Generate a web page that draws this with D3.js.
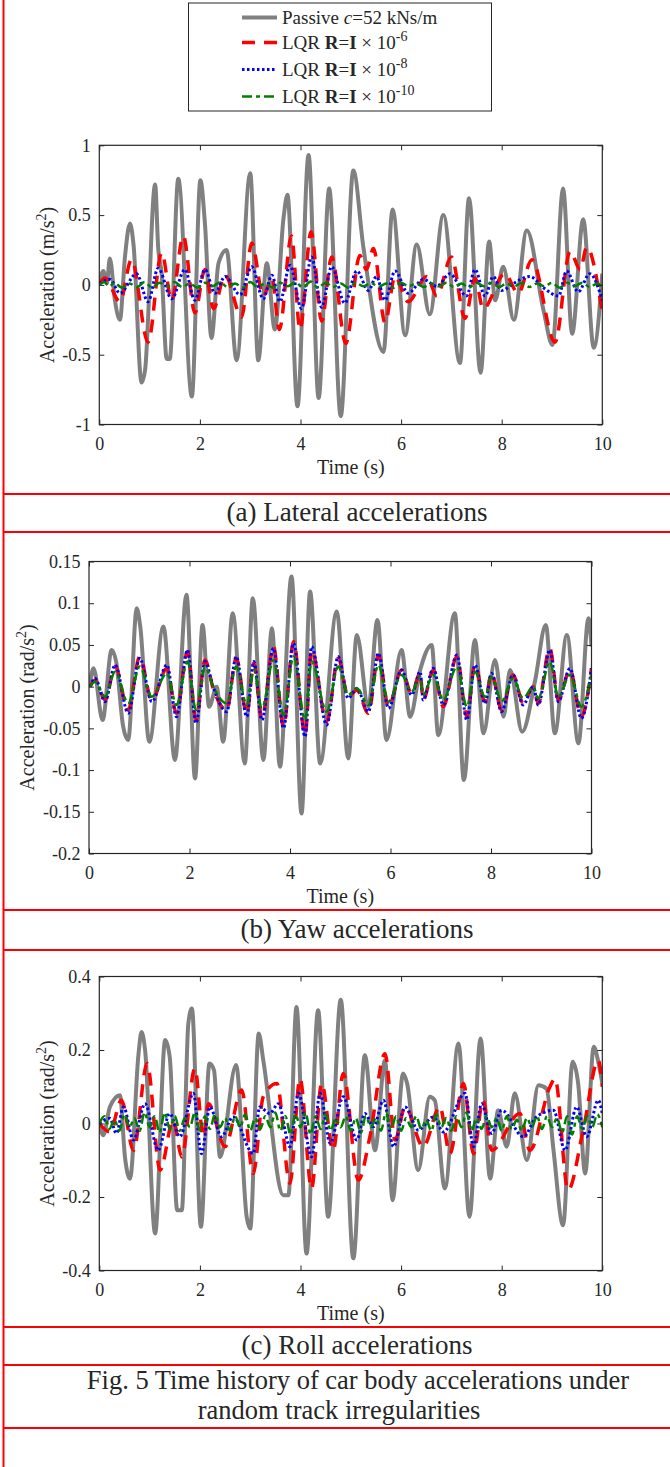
<!DOCTYPE html>
<html>
<head>
<meta charset="utf-8">
<script src="https://cdn.jsdelivr.net/npm/d3@7"></script>
<style>
  html, body { margin: 0; padding: 0; background: #fff; }
  svg { display: block; }
  text { font-family: "Liberation Serif", "Times New Roman", serif; fill: #262626; }
</style>
</head>
<body>
<svg id="chart" width="670" height="1467"></svg>
<script>
// ---------------- DATA ----------------
const timeTicks = [0, 2, 4, 6, 8, 10];
const latTicks = [-1, -0.5, 0, 0.5, 1];
const yawTicks = [-0.2, -0.15, -0.1, -0.05, 0, 0.05, 0.1, 0.15];
const rollTicks = [-0.4, -0.2, 0, 0.2, 0.4];

const seriesNames = ["Passive", "LQR6", "LQR8", "LQR10"];

// (a) Lateral accelerations, [time s, m/s^2]
const latPassive = [[0,0.01],[0.08,0.10],[0.15,0.01],[0.21,0.19],[0.31,-0.11],[0.41,-0.25],[0.51,0.20],[0.61,0.44],[0.68,0.29],[0.84,-0.70],[0.91,-0.61],[1.11,0.72],[1.17,0.27],[1.24,0.08],[1.34,-0.53],[1.40,-0.53],[1.57,0.76],[1.84,-0.80],[2.01,0.75],[2.10,0.44],[2.23,-0.38],[2.37,0.155],[2.53,0.25],[2.73,-0.54],[3.00,0.80],[3.16,-0.54],[3.33,0.155],[3.49,-0.32],[3.66,0.47],[3.74,0.645],[3.94,-0.87],[4.16,0.93],[4.36,-0.81],[4.57,0.69],[4.80,-0.94],[5.05,0.82],[5.25,0.27],[5.65,-0.48],[5.83,0.54],[6.08,-0.36],[6.31,0.29],[6.57,-0.21],[6.84,0.50],[7.17,-0.56],[7.35,0.62],[7.58,-0.63],[7.75,0.31],[7.87,-0.11],[8.03,0.13],[8.24,-0.25],[8.50,0.39],[8.83,-0.18],[9.01,-0.43],[9.22,0.69],[9.40,-0.35],[9.62,0.47],[9.83,-0.45],[10.0,0.08]];
const latLqr6 = [[0,0.01],[0.11,0.05],[0.41,-0.12],[0.64,0.18],[0.97,-0.41],[1.24,0.23],[1.44,-0.11],[1.67,0.35],[1.90,-0.20],[2.10,0.11],[2.27,-0.17],[2.50,0.07],[2.83,-0.23],[3.03,0.30],[3.26,-0.08],[3.43,0.05],[3.58,-0.32],[3.82,0.35],[3.99,-0.32],[4.21,0.38],[4.42,-0.26],[4.62,0.20],[4.90,-0.42],[5.18,0.21],[5.31,0.11],[5.45,0.26],[5.68,-0.27],[5.88,0.06],[6.14,-0.12],[6.51,0.06],[6.71,-0.08],[7.00,0.20],[7.27,-0.24],[7.47,0.05],[7.63,-0.17],[8.06,0.08],[8.33,-0.06],[8.60,0.18],[9.06,-0.41],[9.36,0.24],[9.56,0.11],[9.69,0.27],[10.0,-0.20]];
const latLqr8 = [[0,0.01],[0.21,0.04],[0.41,-0.06],[0.74,0.08],[0.97,-0.12],[1.17,0.12],[1.44,-0.10],[1.70,0.11],[1.90,-0.11],[2.10,0.11],[2.30,-0.06],[2.50,0.06],[2.80,-0.07],[3.03,0.13],[3.26,-0.10],[3.43,0.07],[3.59,-0.12],[3.79,0.14],[4.02,-0.17],[4.22,0.20],[4.42,-0.16],[4.62,0.13],[4.88,-0.13],[5.12,0.10],[5.35,-0.04],[5.51,0.06],[5.68,-0.11],[5.88,0.10],[6.14,-0.06],[6.44,0.04],[6.71,-0.01],[6.97,0.08],[7.30,-0.08],[7.47,0.11],[7.67,-0.08],[7.83,0.06],[8.00,-0.04],[8.23,0.01],[8.56,0.06],[8.83,-0.02],[9.13,-0.08],[9.29,0.10],[9.52,-0.05],[9.75,0.08],[10.0,-0.11]];
const latLqr10 = [[0,0],[0.1,0.02],[0.2,-0.01],[0.3,0.015],[0.45,-0.02],[0.6,0.01],[0.75,-0.015],[0.9,0.02],[1.05,-0.02],[1.2,0.015],[1.35,-0.01],[1.5,0.02],[1.65,-0.015],[1.8,0.01],[1.95,-0.02],[2.1,0.015],[2.25,-0.01],[2.4,0.02],[2.55,-0.015],[2.7,0.01],[2.85,-0.02],[3.0,0.02],[3.15,-0.015],[3.3,0.01],[3.45,-0.02],[3.6,0.015],[3.75,-0.01],[3.9,0.02],[4.05,-0.02],[4.2,0.025],[4.35,-0.02],[4.5,0.015],[4.65,-0.015],[4.8,0.01],[4.95,-0.02],[5.1,0.015],[5.25,-0.01],[5.4,0.015],[5.55,-0.015],[5.7,0.01],[5.85,-0.02],[6.0,0.015],[6.15,-0.01],[6.3,0.01],[6.45,-0.015],[6.6,0.01],[6.75,-0.01],[6.9,0.015],[7.05,-0.015],[7.2,0.01],[7.35,-0.02],[7.5,0.015],[7.65,-0.01],[7.8,0.015],[7.95,-0.015],[8.1,0.01],[8.25,-0.01],[8.4,0.015],[8.55,-0.015],[8.7,0.01],[8.85,-0.01],[9.0,0.015],[9.15,-0.02],[9.3,0.015],[9.45,-0.01],[9.6,0.015],[9.75,-0.015],[9.9,0.01],[10,-0.015]];

// (b) Yaw accelerations, [time s, rad/s^2]
const yawPassive = [[0.02,0.004],[0.09,0.022],[0.27,-0.040],[0.45,0.044],[0.54,0.030],[0.68,-0.048],[0.78,-0.064],[0.95,0.094],[1.02,0.072],[1.20,-0.066],[1.48,0.072],[1.71,-0.088],[1.94,0.110],[2.11,-0.110],[2.26,0.074],[2.39,-0.024],[2.54,0.0],[2.67,-0.066],[2.86,0.088],[3.10,-0.092],[3.26,0.106],[3.47,-0.088],[3.64,0.070],[3.80,-0.096],[4.03,0.132],[4.23,-0.152],[4.40,0.114],[4.60,-0.092],[4.93,0.090],[5.16,-0.086],[5.33,0.062],[5.56,-0.024],[5.74,0.080],[5.92,-0.064],[6.22,0.044],[6.39,-0.036],[6.59,0.020],[6.82,0.050],[6.95,-0.058],[7.28,0.088],[7.46,-0.112],[7.68,0.056],[7.85,-0.056],[8.08,0.032],[8.25,-0.036],[8.38,0.020],[8.62,-0.054],[8.88,0.008],[9.09,0.074],[9.27,-0.056],[9.51,0.062],[9.74,-0.068],[9.94,0.082],[10.0,0.048]];
const yawLqr6 = [[0.02,0.0],[0.12,0.008],[0.32,-0.016],[0.52,0.024],[0.78,-0.028],[1.01,0.036],[1.25,-0.016],[1.55,0.022],[1.74,-0.032],[1.96,0.042],[2.13,-0.040],[2.31,0.032],[2.47,-0.002],[2.74,-0.028],[2.93,0.034],[3.14,-0.032],[3.28,0.028],[3.44,-0.038],[3.67,0.048],[3.87,-0.048],[4.07,0.054],[4.30,-0.058],[4.43,0.044],[4.73,-0.042],[4.96,0.034],[5.16,-0.012],[5.33,-0.004],[5.56,-0.032],[5.76,0.038],[5.96,-0.024],[6.22,0.020],[6.42,-0.008],[6.59,0.016],[6.65,-0.016],[6.85,0.020],[7.05,-0.024],[7.32,0.036],[7.52,-0.036],[7.68,0.026],[7.88,-0.018],[8.01,0.016],[8.21,-0.028],[8.44,0.014],[8.64,-0.020],[8.84,0.0],[8.94,-0.020],[9.17,0.046],[9.34,-0.016],[9.57,0.020],[9.80,-0.036],[10.0,0.022]];
const yawLqr8 = [[0.02,0.0],[0.12,0.010],[0.32,-0.018],[0.52,0.026],[0.78,-0.032],[1.01,0.034],[1.25,-0.018],[1.55,0.026],[1.74,-0.036],[1.96,0.044],[2.13,-0.044],[2.31,0.030],[2.47,0.0],[2.74,-0.030],[2.93,0.036],[3.14,-0.036],[3.28,0.030],[3.44,-0.040],[3.67,0.046],[3.87,-0.050],[4.07,0.052],[4.30,-0.060],[4.43,0.048],[4.73,-0.046],[4.96,0.036],[5.16,-0.014],[5.33,-0.002],[5.56,-0.030],[5.76,0.040],[5.96,-0.026],[6.22,0.020],[6.42,-0.010],[6.59,0.018],[6.65,-0.016],[6.85,0.022],[7.05,-0.022],[7.32,0.038],[7.52,-0.040],[7.68,0.026],[7.88,-0.020],[8.01,0.016],[8.21,-0.030],[8.44,0.014],[8.64,-0.022],[8.84,0.0],[8.94,-0.022],[9.17,0.044],[9.34,-0.018],[9.57,0.022],[9.80,-0.038],[10.0,0.022]];
const yawLqr10 = [[0.02,0.0],[0.12,0.006],[0.32,-0.012],[0.52,0.018],[0.78,-0.020],[1.01,0.024],[1.25,-0.012],[1.55,0.016],[1.74,-0.022],[1.96,0.030],[2.13,-0.028],[2.31,0.024],[2.47,0.0],[2.74,-0.020],[2.93,0.024],[3.14,-0.022],[3.28,0.020],[3.44,-0.026],[3.67,0.032],[3.87,-0.034],[4.07,0.036],[4.30,-0.040],[4.43,0.030],[4.73,-0.030],[4.96,0.024],[5.16,-0.010],[5.33,-0.002],[5.56,-0.022],[5.76,0.026],[5.96,-0.018],[6.22,0.014],[6.42,-0.006],[6.59,0.012],[6.65,-0.010],[6.85,0.014],[7.05,-0.016],[7.32,0.024],[7.52,-0.024],[7.68,0.018],[7.88,-0.012],[8.01,0.012],[8.21,-0.018],[8.44,0.010],[8.64,-0.014],[8.84,0.0],[8.94,-0.014],[9.17,0.030],[9.34,-0.012],[9.57,0.014],[9.80,-0.024],[10.0,0.016]];

// (c) Roll accelerations, [time s, rad/s^2]
const rollPassive = [[0,0],[0.08,-0.032],[0.21,0.045],[0.41,0.077],[0.51,-0.091],[0.61,-0.150],[0.78,0.190],[0.84,0.249],[0.91,0.200],[1.11,-0.299],[1.31,0.227],[1.40,0.181],[1.55,-0.236],[1.64,-0.236],[1.77,0.272],[1.84,0.313],[2.02,-0.281],[2.19,0.163],[2.28,0.145],[2.40,-0.091],[2.72,0.159],[2.93,-0.254],[3.00,-0.286],[3.17,0.245],[3.26,0.172],[3.66,-0.195],[3.76,-0.195],[3.92,0.317],[4.12,-0.354],[4.35,0.308],[4.55,-0.254],[4.80,0.337],[5.05,-0.367],[5.28,0.186],[5.48,-0.073],[5.68,0.172],[5.83,-0.209],[6.04,0.136],[6.12,0.109],[6.34,-0.127],[6.57,0.073],[6.67,0.063],[6.87,-0.177],[7.14,0.218],[7.36,-0.254],[7.58,0.231],[7.77,-0.150],[7.93,0.036],[8.10,-0.063],[8.26,0.082],[8.50,-0.100],[8.73,0.104],[8.89,0.095],[9.03,-0.073],[9.22,-0.277],[9.41,0.168],[9.52,0.109],[9.66,-0.136],[9.83,0.209],[9.92,0.168],[10.0,0.109]];
const rollLqr6 = [[0,0],[0.21,-0.023],[0.44,0.063],[0.68,-0.073],[0.95,0.163],[1.21,-0.127],[1.47,0.009],[1.64,-0.091],[1.90,0.150],[2.07,-0.036],[2.17,0.054],[2.50,-0.063],[2.83,0.091],[3.06,-0.136],[3.26,0.073],[3.53,0.109],[3.79,-0.163],[3.99,0.122],[4.22,-0.177],[4.42,0.109],[4.65,-0.073],[4.85,0.136],[5.15,-0.154],[5.38,-0.036],[5.68,0.190],[5.88,-0.045],[6.08,0.045],[6.44,-0.063],[6.77,0.045],[6.97,-0.082],[7.24,0.109],[7.44,-0.082],[7.63,0.063],[7.80,-0.073],[8.36,0.027],[8.56,-0.073],[8.96,0.100],[9.06,0.122],[9.32,-0.181],[9.62,-0.018],[9.92,0.172],[10.0,0.100]];
const rollLqr8 = [[0,0],[0.21,0.014],[0.34,-0.027],[0.48,0.045],[0.68,-0.045],[0.91,0.054],[1.17,-0.073],[1.40,0.027],[1.60,-0.036],[1.87,0.082],[2.03,-0.082],[2.20,0.045],[2.43,-0.036],[2.66,0.018],[3.06,-0.082],[3.19,0.045],[3.39,0.027],[3.56,0.054],[3.79,-0.063],[3.96,0.082],[4.22,-0.091],[4.39,0.082],[4.59,-0.054],[4.85,0.073],[5.12,-0.045],[5.28,0.027],[5.45,-0.009],[5.65,0.063],[5.85,-0.063],[6.08,0.045],[6.34,-0.018],[6.64,0.018],[6.84,-0.023],[7.27,0.082],[7.44,-0.063],[7.60,0.054],[7.80,-0.027],[8.00,0.036],[8.43,-0.036],[8.69,0.018],[9.03,0.036],[9.26,-0.073],[9.49,0.045],[9.69,-0.036],[9.92,0.063],[10.0,0.027]];
const rollLqr10 = [[0,0],[0.1,0.02],[0.2,-0.015],[0.3,0.01],[0.4,-0.02],[0.5,0.025],[0.6,-0.01],[0.7,0.015],[0.8,-0.02],[0.9,0.03],[1.0,-0.01],[1.1,0.02],[1.2,-0.025],[1.3,0.03],[1.4,-0.015],[1.5,0.02],[1.6,-0.02],[1.7,0.015],[1.8,-0.01],[1.9,0.03],[2.0,-0.02],[2.1,0.02],[2.2,-0.015],[2.3,0.025],[2.4,-0.01],[2.5,0.015],[2.6,-0.02],[2.7,0.02],[2.8,-0.01],[2.9,0.025],[3.0,-0.02],[3.1,0.015],[3.2,-0.015],[3.3,0.02],[3.4,-0.01],[3.5,0.03],[3.6,-0.02],[3.7,0.02],[3.8,-0.03],[3.9,0.025],[4.0,-0.01],[4.1,0.03],[4.2,-0.03],[4.3,0.02],[4.4,-0.015],[4.5,0.025],[4.6,-0.02],[4.7,0.015],[4.8,-0.01],[4.9,0.02],[5.0,-0.02],[5.1,0.015],[5.2,-0.025],[5.3,0.02],[5.4,-0.01],[5.5,0.015],[5.6,-0.02],[5.7,0.03],[5.8,-0.015],[5.9,0.02],[6.0,-0.02],[6.1,0.015],[6.2,-0.01],[6.3,0.02],[6.4,-0.015],[6.5,0.01],[6.6,-0.02],[6.7,0.025],[6.8,-0.01],[6.9,0.015],[7.0,-0.02],[7.1,0.02],[7.2,-0.01],[7.3,0.03],[7.4,-0.02],[7.5,0.015],[7.6,-0.015],[7.7,0.02],[7.8,-0.01],[7.9,0.015],[8.0,-0.02],[8.1,0.02],[8.2,-0.015],[8.3,0.01],[8.4,-0.02],[8.5,0.015],[8.6,-0.01],[8.7,0.02],[8.8,-0.015],[8.9,0.02],[9.0,-0.01],[9.1,0.015],[9.2,-0.025],[9.3,0.02],[9.4,-0.03],[9.5,0.02],[9.6,-0.015],[9.7,0.02],[9.8,-0.01],[9.9,0.025],[10,-0.01]];

const panelCaptions = ["(a) Lateral accelerations", "(b) Yaw accelerations", "(c) Roll accelerations"];
const figCaption = ["Fig. 5 Time history of car body accelerations under", "random track irregularities"];

// ---------------- STYLE / LAYOUT ----------------
const styles = {
  Passive: { color: "#808080", width: 4, dash: null },
  LQR6:    { color: "#ff0000", width: 3.5, dash: "13,9" },
  LQR8:    { color: "#0000ff", width: 3, dash: "2.5,2.5" },
  LQR10:   { color: "#008000", width: 2.5, dash: "10,4,4,4" }
};

const panels = [
  { id: "a", data: [latPassive, latLqr6, latLqr8, latLqr10], ticks: latTicks, domain: [-1, 1],
    unit: "m/s", left: 99.3, right: 602.3, top: 145.3, bottom: 424.5, labelX: 47 },
  { id: "b", data: [yawPassive, yawLqr6, yawLqr8, yawLqr10], ticks: yawTicks, domain: [-0.2, 0.15],
    unit: "rad/s", left: 89, right: 591.5, top: 561.5, bottom: 853.5, labelX: 27 },
  { id: "c", data: [rollPassive, rollLqr6, rollLqr8, rollLqr10], ticks: rollTicks, domain: [-0.4, 0.4],
    unit: "rad/s", left: 99.3, right: 602.3, top: 976.5, bottom: 1270.5, labelX: 47 }
];

const svg = d3.select("#chart");
const ink = "#262626";

// red frame lines
const redH = [494, 532, 910, 950, 1327, 1365, 1428];
svg.append("g").selectAll("line").data(redH).join("line")
  .attr("x1", 3).attr("x2", 670).attr("y1", d => d).attr("y2", d => d)
  .attr("stroke", "#ff0000").attr("stroke-width", 2);
svg.append("line").attr("x1", 3.5).attr("x2", 3.5).attr("y1", 0).attr("y2", 1467)
  .attr("stroke", "#ff0000").attr("stroke-width", 2);

panels.forEach((p, pi) => {
  const x = d3.scaleLinear().domain([0, 10]).range([p.left, p.right]);
  const y = d3.scaleLinear().domain(p.domain).range([p.bottom, p.top]);
  const g = svg.append("g");

  const clipId = "clip-" + p.id;
  g.append("clipPath").attr("id", clipId).append("rect")
    .attr("x", p.left).attr("y", p.top).attr("width", p.right - p.left).attr("height", p.bottom - p.top);

  const line = d3.line().x(d => x(d[0])).y(d => y(d[1])).curve(d3.curveMonotoneX);
  const lines = g.append("g").attr("clip-path", `url(#${clipId})`);
  p.data.forEach((series, si) => {
    const st = styles[seriesNames[si]];
    lines.append("path").datum(series)
      .attr("d", line)
      .attr("fill", "none")
      .attr("stroke", st.color)
      .attr("stroke-width", st.width)
      .attr("stroke-dasharray", st.dash)
      .attr("stroke-linejoin", "round");
  });

  // axes (ticks pointing inward)
  const fmt = d => String(d);
  const bottomAx = g.append("g").attr("transform", `translate(0,${p.bottom})`)
    .call(d3.axisBottom(x).tickValues(timeTicks).tickSize(-5).tickPadding(12.5).tickFormat(fmt));
  const topAx = g.append("g").attr("transform", `translate(0,${p.top})`)
    .call(d3.axisTop(x).tickValues(timeTicks).tickSize(-5).tickFormat(""));
  const leftAx = g.append("g").attr("transform", `translate(${p.left},0)`)
    .call(d3.axisLeft(y).tickValues(p.ticks).tickSize(-5).tickPadding(8.5).tickFormat(fmt));
  const rightAx = g.append("g").attr("transform", `translate(${p.right},0)`)
    .call(d3.axisRight(y).tickValues(p.ticks).tickSize(-5).tickFormat(""));
  [bottomAx, topAx, leftAx, rightAx].forEach(a => {
    a.select(".domain").remove();
    a.selectAll(".tick line").attr("stroke", ink).attr("stroke-width", 1);
    a.selectAll("text").style("font-family", '"Liberation Serif", "Times New Roman", serif')
      .style("font-size", "18px").attr("fill", ink);
  });

  g.append("rect").attr("x", p.left).attr("y", p.top)
    .attr("width", p.right - p.left).attr("height", p.bottom - p.top)
    .attr("fill", "none").attr("stroke", ink).attr("stroke-width", 1.2);

  // x label
  g.append("text").attr("x", (p.left + p.right) / 2).attr("y", p.bottom + 49)
    .attr("text-anchor", "middle").style("font-size", "20px").text("Time (s)");

  // y label
  const cy = (p.top + p.bottom) / 2;
  const yl = g.append("text")
    .attr("transform", `translate(${p.labelX + 7},${cy}) rotate(-90)`)
    .attr("text-anchor", "middle").style("font-size", "20px");
  yl.append("tspan").text("Acceleration (" + p.unit);
  yl.append("tspan").attr("dy", -8).style("font-size", "14px").text("2");
  yl.append("tspan").attr("dy", 8).text(")");

  // panel caption
  const capY = [521, 938, 1354][pi];
  svg.append("text").attr("x", 357).attr("y", capY).attr("text-anchor", "middle")
    .style("font-size", "27px").attr("fill", "#111").text(panelCaptions[pi]);
});

// figure caption
svg.append("text").attr("x", 358).attr("y", 1389).attr("text-anchor", "middle")
  .style("font-size", "26.5px").attr("fill", "#111").text(figCaption[0]);
svg.append("text").attr("x", 339).attr("y", 1419).attr("text-anchor", "middle")
  .style("font-size", "26.5px").attr("fill", "#111").text(figCaption[1]);

// legend
const lg = svg.append("g");
lg.append("rect").attr("x", 188.5).attr("y", 3).attr("width", 303).attr("height", 108)
  .attr("fill", "#fff").attr("stroke", ink).attr("stroke-width", 1);
const legendRows = [17.5, 42.5, 69.5, 96.5];
const exps = ["-6", "-8", "-10"];
seriesNames.forEach((name, i) => {
  const st = styles[name];
  const ry = legendRows[i];
  lg.append("line").attr("x1", 242).attr("x2", 277).attr("y1", ry).attr("y2", ry)
    .attr("stroke", st.color).attr("stroke-width", st.width).attr("stroke-dasharray", st.dash);
  const t = lg.append("text").attr("x", 282).attr("y", ry + 6).style("font-size", "19px");
  if (i === 0) {
    t.append("tspan").text("Passive ");
    t.append("tspan").style("font-style", "italic").text("c");
    t.append("tspan").text("=52 kNs/m");
  } else {
    t.append("tspan").text("LQR ");
    t.append("tspan").style("font-weight", "bold").text("R");
    t.append("tspan").text("=");
    t.append("tspan").style("font-weight", "bold").text("I");
    t.append("tspan").text(" \u00d7 10");
    t.append("tspan").attr("dy", -8).style("font-size", "14px").text(exps[i - 1]);
  }
});
</script>
</body>
</html>
